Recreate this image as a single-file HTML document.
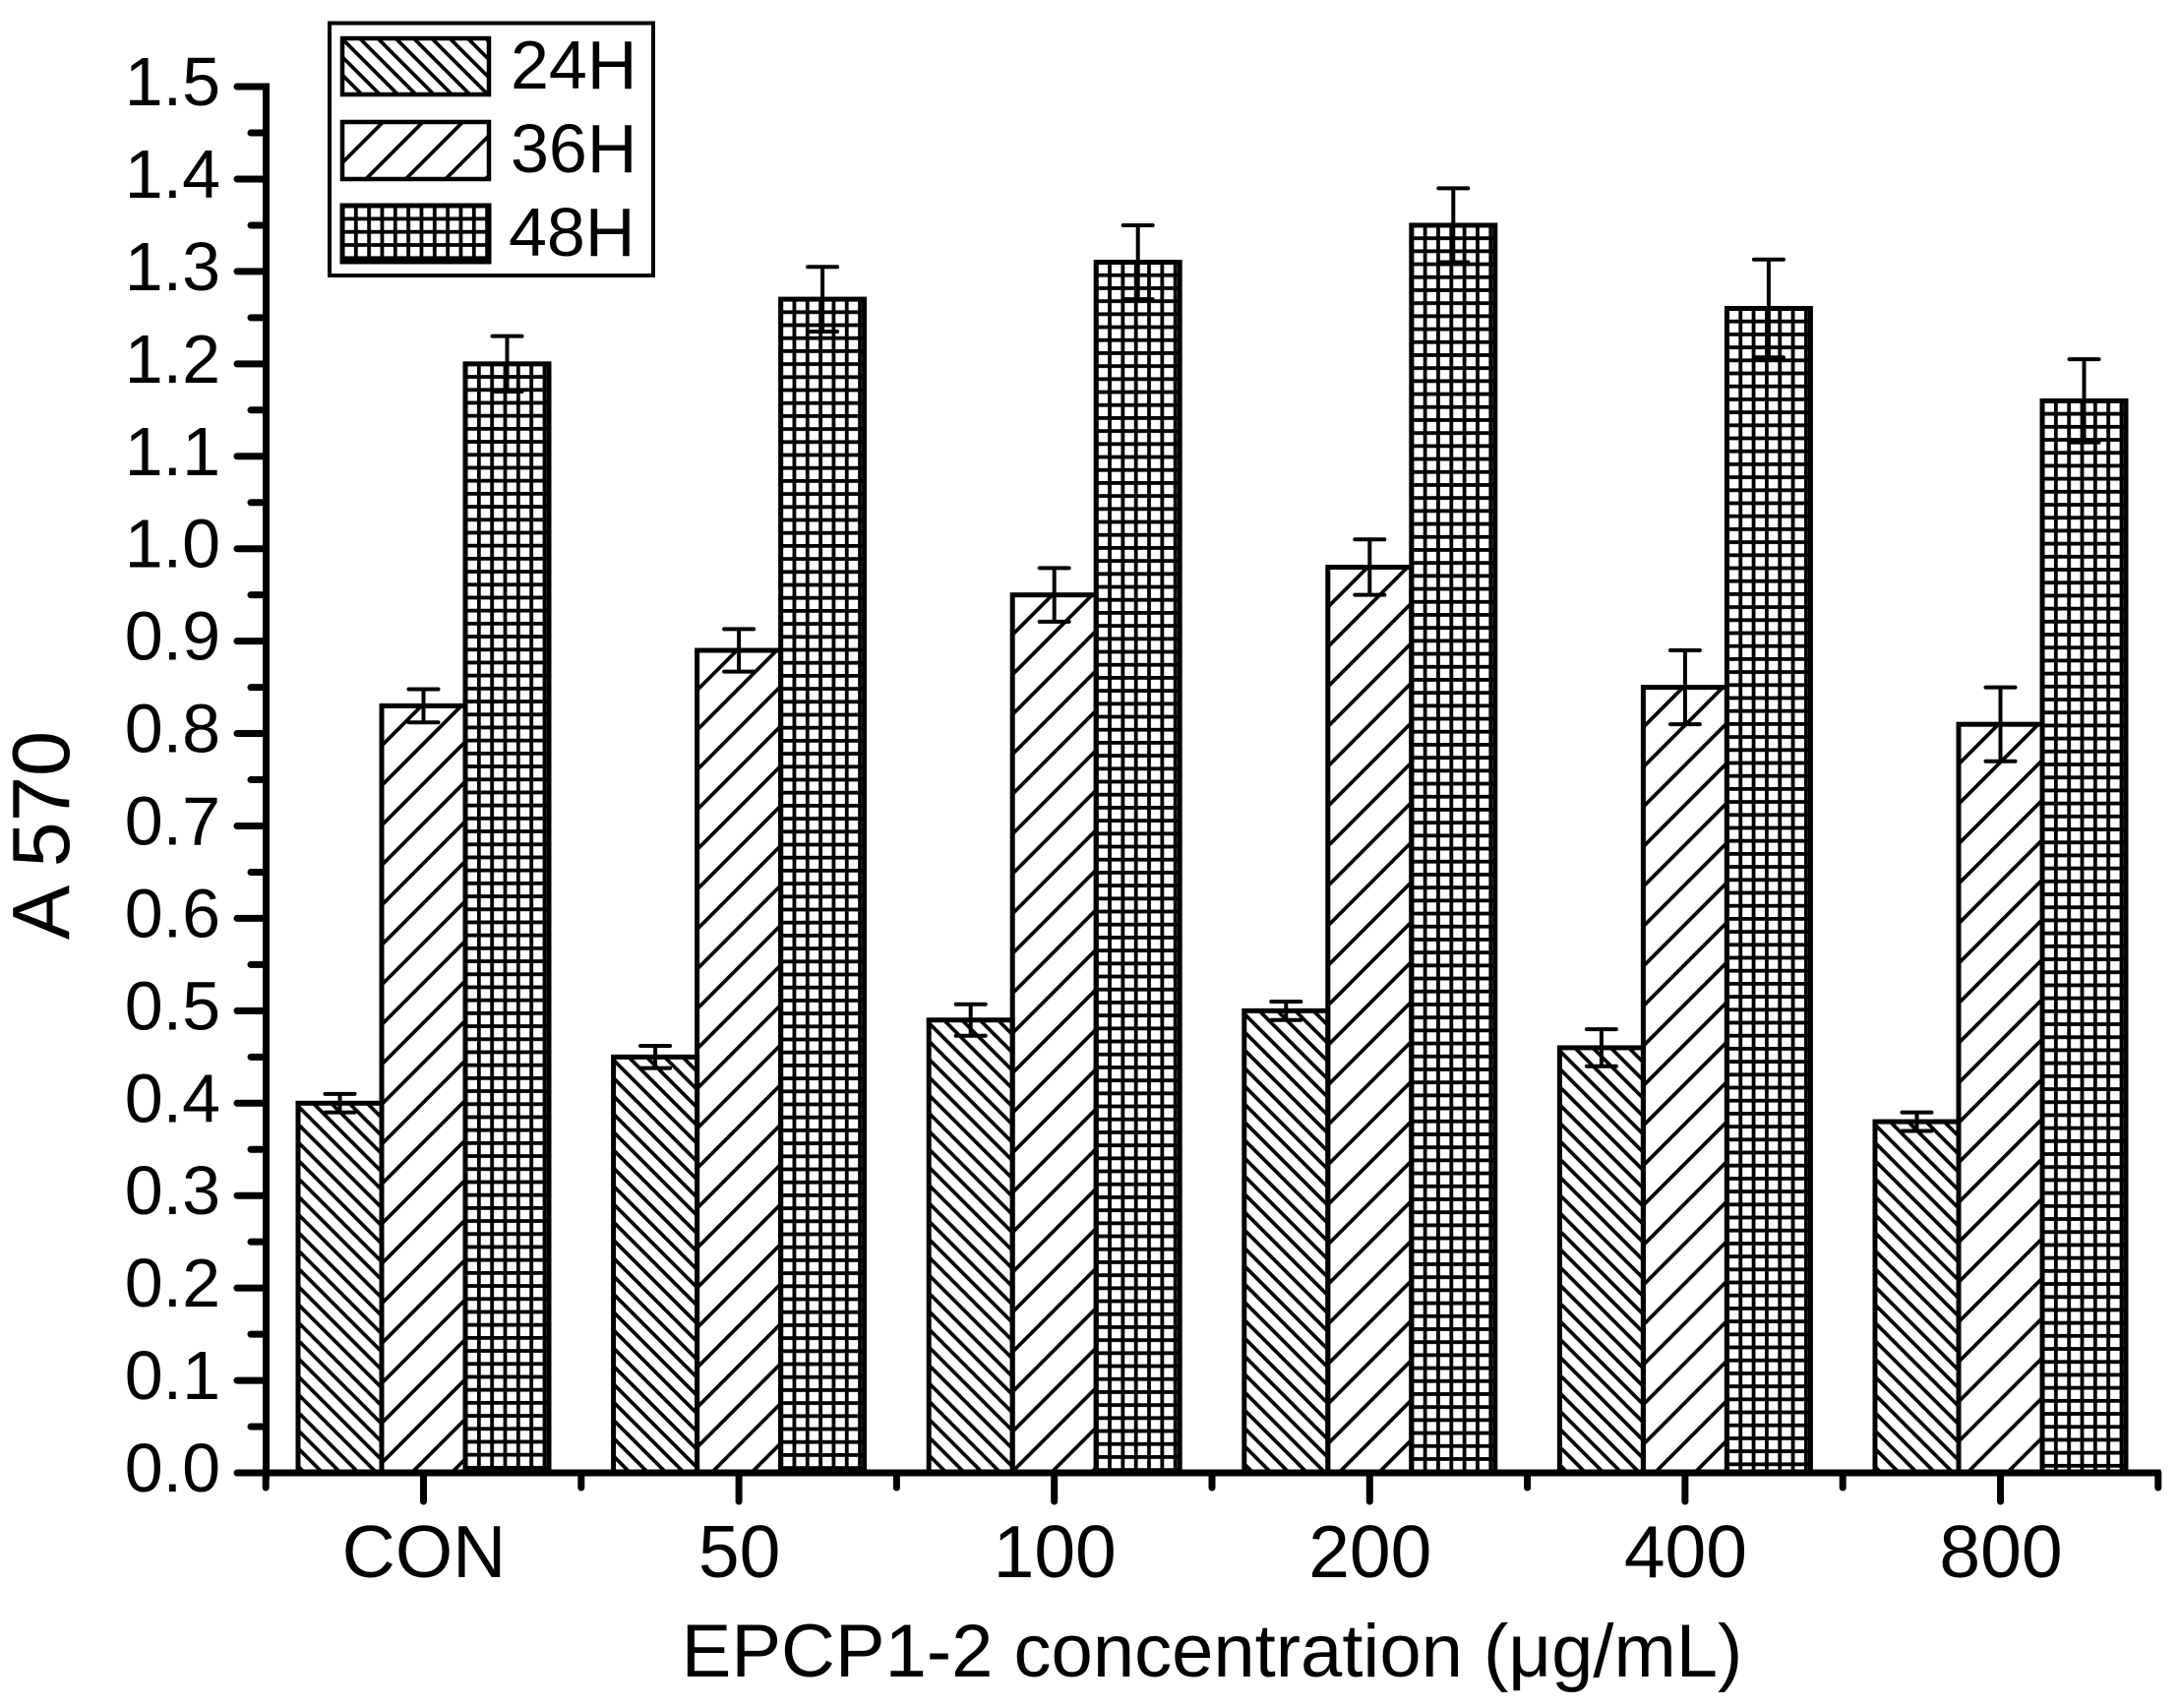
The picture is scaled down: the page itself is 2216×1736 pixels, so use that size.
<!DOCTYPE html>
<html>
<head>
<meta charset="utf-8">
<style>
html,body{margin:0;padding:0;background:#fff;}
svg{display:block;}
text{font-family:"Liberation Sans",Arial,sans-serif;fill:#000;}
</style>
</head>
<body>
<svg id="chart" xmlns="http://www.w3.org/2000/svg" width="2216" height="1736" viewBox="0 0 2216 1736">
  <defs id="defs">
    <pattern id="legend-hatch-24" patternUnits="userSpaceOnUse" width="18.3" height="18.3" patternTransform="translate(366.7 40)">
      <path d="M-3 -3L21.3 21.3M-3 15.3L3 21.3M15.3 -3L21.3 3" stroke="#000" stroke-width="3.7" fill="none"/>
    </pattern>
    <pattern id="legend-hatch-36" patternUnits="userSpaceOnUse" width="40.5" height="40.5" patternTransform="translate(386.7 126.7)">
      <path d="M-3 43.5L43.5 -3M-3 3L3 -3M37.5 43.5L43.5 37.5" stroke="#000" stroke-width="3.7" fill="none"/>
    </pattern>
    <pattern id="legend-hatch-48" patternUnits="userSpaceOnUse" width="13.33" height="13.3" patternTransform="translate(359.9 220.5)">
      <rect x="0" y="0" width="3.8" height="13.3" fill="#000"/>
      <rect x="0" y="0" width="13.33" height="3.8" fill="#000"/>
    </pattern>
  </defs>
  <rect x="0" y="0" width="2216" height="1736" fill="#fff"/>
  <g id="bars"></g>
  <g id="errors"></g>
  <g id="y-axis"></g>
  <g id="x-axis"></g>
  <text transform="translate(70 849) rotate(-90)" text-anchor="middle" font-size="83">A 570</text>
  <text x="1232" y="1704" text-anchor="middle" font-size="76">EPCP1-2 concentration (μg/mL)</text>
  <g>
    <rect x="335" y="23.5" width="329" height="256.5" fill="#fff" stroke="#000" stroke-width="4"/>
    <rect x="348" y="39" width="149" height="57" fill="url(#legend-hatch-24)" stroke="#000" stroke-width="4.5"/>
    <text x="519" y="90" font-size="70">24H</text>
    <rect x="348" y="124" width="149" height="58" fill="url(#legend-hatch-36)" stroke="#000" stroke-width="4.5"/>
    <text x="519" y="175" font-size="70">36H</text>
    <rect x="348" y="209" width="149" height="57" fill="url(#legend-hatch-48)" stroke="#000" stroke-width="5"/>
    <text x="517" y="260" font-size="70">48H</text>
  </g>
</svg>
<script>
const categories = ["CON", "50", "100", "200", "400", "800"];
const values24h = [0.40, 0.45, 0.49, 0.50, 0.46, 0.38];
const values36h = [0.83, 0.89, 0.95, 0.98, 0.85, 0.81];
const values48h = [1.20, 1.27, 1.31, 1.35, 1.26, 1.16];
const errors24h = [0.010, 0.012, 0.017, 0.010, 0.020, 0.010];
const errors36h = [0.018, 0.023, 0.029, 0.030, 0.040, 0.040];
const errors48h = [0.030, 0.035, 0.040, 0.040, 0.053, 0.045];
const yTickLabels = ["0.0","0.1","0.2","0.3","0.4","0.5","0.6","0.7","0.8","0.9","1.0","1.1","1.2","1.3","1.4","1.5"];

const SVGNS = "http://www.w3.org/2000/svg";
const Y0 = 1497, Y_PER_UNIT = 939.3;
const XC0 = 430.5, X_STEP = 320.6, BAR_W = 85;
const AXIS_LEFT = 270.5, AXIS_RIGHT = 2193;
function yScale(v){ return Y0 - v * Y_PER_UNIT; }
function xCenter(i){ return XC0 + i * X_STEP; }
function xBar(i, s){ return xCenter(i) + (s - 1) * BAR_W - BAR_W / 2; }
function mk(tag, parent){
  const el = document.createElementNS(SVGNS, tag);
  parent.appendChild(el);
  return el;
}
function line(parent, x1, y1, x2, y2, w, cap){
  const el = mk("line", parent);
  el.setAttribute("x1", x1);
  el.setAttribute("y1", y1);
  el.setAttribute("x2", x2);
  el.setAttribute("y2", y2);
  el.setAttribute("stroke", "#000");
  el.setAttribute("stroke-width", w);
  el.setAttribute("stroke-linecap", cap || "butt");
  return el;
}
// Fill patterns are anchored at each bar's top-left corner, as in the source figure.
function makePattern(id, s, x, y){
  const defs = document.getElementById("defs");
  const p = mk("pattern", defs);
  p.setAttribute("id", id);
  p.setAttribute("patternUnits", "userSpaceOnUse");
  if (s === 2) {
    p.setAttribute("width", 13.33);
    p.setAttribute("height", 13.2);
    p.setAttribute("patternTransform", "translate(" + (x - 1.4) + " " + (y - 1.9) + ")");
    const v = mk("rect", p);
    v.setAttribute("width", 3.8);
    v.setAttribute("height", 13.2);
    const h = mk("rect", p);
    h.setAttribute("width", 13.33);
    h.setAttribute("height", 3.8);
    return;
  }
  const t = s === 0 ? 18.3 : 40.5;
  const d = s === 0
    ? "M-3 -3L" + (t + 3) + " " + (t + 3) + "M-3 " + (t - 3) + "L3 " + (t + 3) + "M" + (t - 3) + " -3L" + (t + 3) + " 3"
    : "M-3 " + (t + 3) + "L" + (t + 3) + " -3M-3 3L3 -3M" + (t - 3) + " " + (t + 3) + "L" + (t + 3) + " " + (t - 3);
  p.setAttribute("width", t);
  p.setAttribute("height", t);
  p.setAttribute("patternTransform", "translate(" + x + " " + (s === 0 ? y + 3 : y) + ")");
  const path = mk("path", p);
  path.setAttribute("d", d);
  path.setAttribute("stroke", "#000");
  path.setAttribute("stroke-width", "3.7");
  path.setAttribute("fill", "none");
}
const barsG = document.getElementById("bars");
const errG = document.getElementById("errors");
const yG = document.getElementById("y-axis");
const xG = document.getElementById("x-axis");
const seriesValues = [values24h, values36h, values48h];
const seriesErrors = [errors24h, errors36h, errors48h];
const seriesNames = ["24h", "36h", "48h"];

seriesValues.forEach(function(vals, s){
  vals.forEach(function(v, i){
    const x = xBar(i, s), y = yScale(v);
    const pid = "fill-" + s + "-" + i;
    makePattern(pid, s, x, y);
    const r = mk("rect", barsG);
    
    
    r.setAttribute("x", x);
    r.setAttribute("y", y);
    r.setAttribute("width", BAR_W);
    r.setAttribute("height", Y0 - y);
    r.setAttribute("fill", "url(#" + pid + ")");
    r.setAttribute("stroke", "#000");
    r.setAttribute("stroke-width", "5");
    const e = seriesErrors[s][i];
    const cx = x + BAR_W / 2;
    const g = mk("g", errG);
    
    
    line(g, cx, yScale(v + e), cx, yScale(v - e), 4);
    line(g, cx - 15, yScale(v + e), cx + 15, yScale(v + e), 4, "round");
    line(g, cx - 15, yScale(v - e), cx + 15, yScale(v - e), 4, "round");
  });
});

const yLine = line(yG, AXIS_LEFT, yScale(1.5), AXIS_LEFT, Y0 + 3, 7, "square");


yTickLabels.forEach(function(lbl, i){
  const v = parseFloat(lbl);
  const t = line(yG, 241, yScale(v), AXIS_LEFT, yScale(v), 7, "round");
  
  
  const txt = mk("text", yG);
  
  
  txt.setAttribute("x", 224);
  txt.setAttribute("y", yScale(v) + 19);
  txt.setAttribute("text-anchor", "end");
  txt.setAttribute("font-size", "70");
  txt.textContent = lbl;
  if (i < yTickLabels.length - 1) {
    const mid = (v + parseFloat(yTickLabels[i + 1])) / 2;
    const m = line(yG, 255, yScale(mid), AXIS_LEFT, yScale(mid), 7, "round");
    
    
  }
});

const xLine = line(xG, AXIS_LEFT, Y0, AXIS_RIGHT, Y0, 7, "square");


categories.forEach(function(c, i){
  const cx = xCenter(i);
  const t = line(xG, cx, Y0, cx, 1526, 7, "round");
  
  
  const txt = mk("text", xG);
  
  
  txt.setAttribute("x", cx + 0.5);
  txt.setAttribute("y", 1603);
  txt.setAttribute("text-anchor", "middle");
  txt.setAttribute("font-size", "75");
  txt.textContent = c;
});
for (let i = 0; i <= categories.length; i++) {
  const mx = xCenter(i) - X_STEP / 2;
  const m = line(xG, mx, Y0, mx, 1512, 7, "round");
  
  
}
</script>
</body>
</html>
